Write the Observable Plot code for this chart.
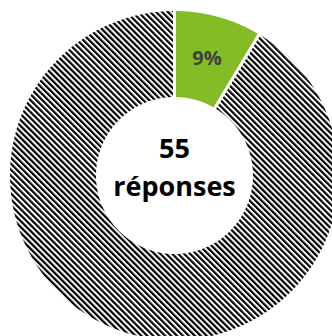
<!DOCTYPE html>
<html><head><meta charset="utf-8">
<script src="https://cdn.jsdelivr.net/npm/d3@7"></script>
<script src="https://cdn.jsdelivr.net/npm/@observablehq/plot@0.6"></script>
<style>
html,body{margin:0;padding:0;background:#fff;}
#chart{width:332px;height:336px;overflow:hidden;}
</style></head>
<body><div id="chart"></div>
<script>
const categories = ["Oui", "Non"];
const values = [8.6, 91.4];
const sliceLabels = ["9%", ""];
const centerLines = ["55", "réponses"];

const fills = {"Oui": "#84bc25", "Non": "url(#hatch)"};
const R_OUT = 166, R_IN = 77;

const pie = d3.pie().sort(null).value(d => d.value);
const arcs = pie(categories.map((c, i) => ({cat: c, value: values[i], label: sliceLabels[i]})));

const pts = [];
for (const a of arcs) {
  const n = Math.max(8, Math.ceil((a.endAngle - a.startAngle) * 80));
  for (let k = 0; k <= n; k++) {
    const t = a.startAngle + (a.endAngle - a.startAngle) * k / n;
    pts.push({cat: a.data.cat, x: R_OUT * Math.sin(t), y: R_OUT * Math.cos(t)});
  }
  for (let k = n; k >= 0; k--) {
    const t = a.startAngle + (a.endAngle - a.startAngle) * k / n;
    pts.push({cat: a.data.cat, x: R_IN * Math.sin(t), y: R_IN * Math.cos(t)});
  }
}
const labelPts = arcs.map(a => {
  const m = (a.startAngle + a.endAngle) / 2, r = (R_OUT + R_IN) / 2;
  return {label: a.data.label, x: r * Math.sin(m), y: r * Math.cos(m)};
});

const plot = Plot.plot({
  width: 332, height: 336,
  margin: 0,
  x: {domain: [-174, 158], axis: null},
  y: {domain: [-161, 175], axis: null},
  style: {background: "white"},
  marks: [
    Plot.line(pts, {x: "x", y: "y", z: "cat", fill: d => fills[d.cat], stroke: "white", strokeWidth: 3, curve: "linear-closed", strokeLinejoin: "miter"}),
    Plot.text(labelPts, {x: "x", y: "y", text: "label", fill: "#404040", fontSize: 20, fontWeight: "bold", fontFamily: "Open Sans", dy: 0}),
    Plot.text([centerLines[0]], {x: () => 0, y: () => 0, text: d => d, fill: "black", fontSize: 27, fontWeight: "bold", fontFamily: "Open Sans", dy: -26}),
    Plot.text([centerLines[1]], {x: () => 0, y: () => 0, text: d => d, fill: "black", fontSize: 27, fontWeight: "bold", fontFamily: "Open Sans", dy: 12})
  ]
});

const ns = "http://www.w3.org/2000/svg";
const defs = document.createElementNS(ns, "defs");
defs.innerHTML = `<pattern id="hatch" patternUnits="userSpaceOnUse" width="4.2" height="4.2" patternTransform="rotate(-45)">
<rect width="4.2" height="4.2" fill="white"/><rect x="0" width="2.2" height="4.2" fill="#000"/></pattern>`;
plot.insertBefore(defs, plot.firstChild);
document.getElementById("chart").appendChild(plot);
</script></body></html>
